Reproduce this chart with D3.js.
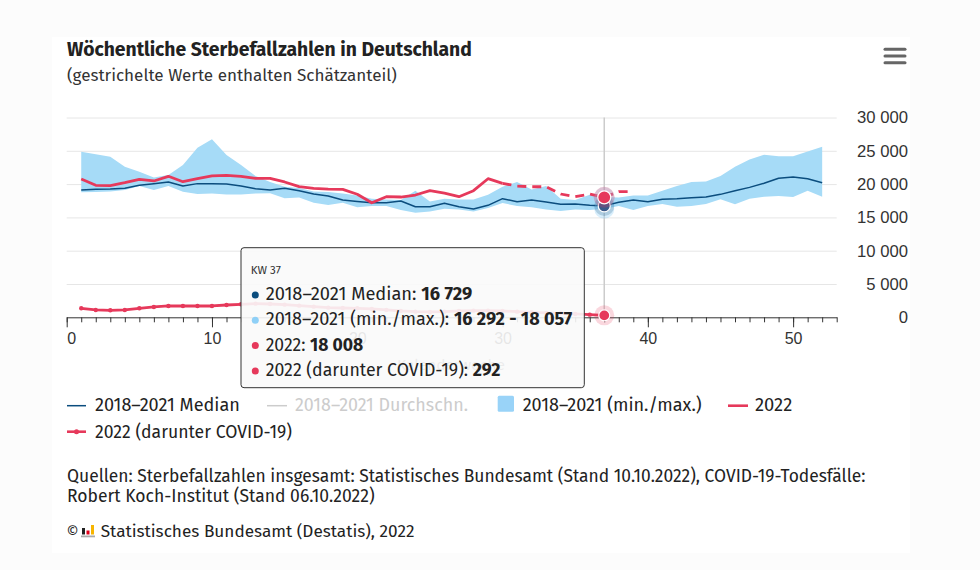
<!DOCTYPE html>
<html><head><meta charset="utf-8">
<script src="https://cdn.jsdelivr.net/npm/d3@7"></script>
<style>
html,body{margin:0;padding:0;background:#fcfcfc;}
svg{display:block;font-family:"Fira Sans","Noto Sans","Open Sans",sans-serif;}
</style></head><body>
<svg id="c" width="980" height="570"></svg>
<script>
// ---------- data ----------
const weeks = [1,2,3,4,5,6,7,8,9,10,11,12,13,14,15,16,17,18,19,20,21,22,23,24,25,26,
  27,28,29,30,31,32,33,34,35,36,37,38,39,40,41,42,43,44,45,46,47,48,49,50,51,52];
const median = [19110,19210,19250,19370,19820,20070,20320,19710,20070,20070,20000,19710,19310,
  19110,19370,19010,18510,18210,17610,17400,17210,17210,17460,16610,16610,17110,16610,16260,
  16810,17810,17360,17610,17310,16960,17010,16810,16729,17260,17610,17360,17710,17810,17960,
  18060,18460,19010,19510,20120,20870,21070,20810,20210];
const bandMin = [18770,18830,18900,19110,19710,19110,19710,18860,18510,18600,18450,18450,18600,
  18620,17870,18000,17210,16860,17210,16520,16700,16700,16110,15710,15900,16300,16200,15900,
  16400,17160,16700,16520,16200,15960,16200,16110,16292,16700,16110,16710,17010,16610,16710,
  17010,17710,16960,17810,18110,18210,18060,19010,18110];
const bandMax = [24870,24500,24100,22600,21860,21000,21370,22870,25470,26730,24370,22870,21200,
  20300,19600,19400,18900,18800,18600,18300,17800,17700,17600,19000,17400,17800,17700,17700,
  18400,19600,20300,19200,19700,17800,17600,18400,18057,18000,18300,18300,19000,19700,20300,
  20400,21200,22600,23700,24400,24200,24200,24900,25600];
const deaths2022 = [20770,19820,19770,20210,20720,20470,21170,20360,20810,21220,21320,21170,20870,
  20870,20320,19610,19370,19260,19210,18480,17200,18110,18060,18360,19010,18660,18110,19010,
  20810,20120,19710,19600,19600,18510,18110,18510,18008,18860,18860];
const estimatedFrom = 30; // dashed from this week on
const covid2022 = [1350,1100,1050,1100,1350,1550,1700,1700,1700,1700,1850,1950,2050,2000,1900,
  1750,1600,1450,1400,1350,1250,1100,950,850,800,850,950,1000,1000,950,850,750,650,600,500,400,292];
const xMajorTicks = [0,10,20,30,40,50];
const xMinorTicks = [0,1,2,3,4,5,6,7,8,9,10,11,12,13,14,15,16,17,18,19,20,21,22,23,24,25,26,
  27,28,29,30,31,32,33,34,35,36,37,38,39,40,41,42,43,44,45,46,47,48,49,50,51,52,53];
const yTicks = [0,5000,10000,15000,20000,25000,30000];
const hoverWeek = 37;

// ---------- setup ----------
const C = {median:"#0b4d7e", band:"#a6dbf7", bandLegend:"#99d3f8", red:"#e6395b", grid:"#e6e6e6", text:"#333"};
const loc = d3.formatLocale({decimal:",", thousands:"\u00a0", grouping:[3], currency:["","€"]});
const fmt = loc.format(",");
const svg = d3.select("#c");
svg.append("rect").attr("x",52).attr("y",37).attr("width",858).attr("height",516).attr("fill","#fff");

const x = d3.scaleLinear().domain([0,53]).range([66.7,836.7]);
const y = d3.scaleLinear().domain([0,30000]).range([317.3,117.5]);

function fit(sel, target){
  const w = sel.node().getComputedTextLength();
  const fs = parseFloat(sel.attr("font-size"));
  if (w>0) sel.attr("font-size", (fs*target/w).toFixed(2));
  return sel;
}

// title
fit(svg.append("text").attr("x",67).attr("y",56).attr("font-size",17).attr("font-weight","bold")
  .attr("fill","#222").text("Wöchentliche Sterbefallzahlen in Deutschland"),405);
fit(svg.append("text").attr("x",67).attr("y",81).attr("font-size",15).attr("fill",C.text)
  .text("(gestrichelte Werte enthalten Schätzanteil)"),330);

// menu icon
[49.3,56,62.7].forEach(yy=>svg.append("line").attr("x1",885).attr("x2",905).attr("y1",yy).attr("y2",yy)
  .attr("stroke","#666").attr("stroke-width",3).attr("stroke-linecap","round"));

// grid
svg.append("g").selectAll("line").data(yTicks.filter(d=>d>0)).join("line")
  .attr("x1",x(0)).attr("x2",x(53)).attr("y1",d=>y(d)+0.5).attr("y2",d=>y(d)+0.5)
  .attr("stroke",C.grid).attr("stroke-width",1);

// y axis labels (right)
const yAxis = svg.append("g").attr("transform","translate(908,0)")
  .call(d3.axisRight(y).tickValues(yTicks).tickSize(0).tickFormat(d=>fmt(d)));
yAxis.select(".domain").remove();
yAxis.selectAll("text").attr("x",0).attr("text-anchor","end").attr("font-size",15.5)
  .attr("font-family","inherit").attr("fill",C.text);
{
  const t = yAxis.selectAll("text").filter(d=>d===30000);
  const w = t.node().getComputedTextLength();
  yAxis.selectAll("text").attr("font-size",(15.5*51/w).toFixed(2));
}

// band
const idx = weeks.map((w,i)=>i);
svg.append("path").datum(idx)
  .attr("d", d3.area().x(i=>x(weeks[i])).y0(i=>y(bandMin[i])).y1(i=>y(bandMax[i])))
  .attr("fill",C.band);

// median
svg.append("path").datum(idx)
  .attr("d", d3.line().x(i=>x(weeks[i])).y(i=>y(median[i])))
  .attr("fill","none").attr("stroke",C.median).attr("stroke-width",1.5).attr("stroke-linejoin","round");

// crosshair
svg.append("line").attr("x1",x(hoverWeek)).attr("x2",x(hoverWeek)).attr("y1",y(30000)).attr("y2",y(0))
  .attr("stroke","#cccccc").attr("stroke-width",1.5);

// 2022 line
const d22 = deaths2022.map((v,i)=>({w:weeks[i],v}));
const l22 = d3.line().x(d=>x(d.w)).y(d=>y(d.v));
svg.append("path").datum(d22.filter(d=>d.w<=estimatedFrom)).attr("d",l22)
  .attr("fill","none").attr("stroke",C.red).attr("stroke-width",2.8).attr("stroke-linejoin","round");
svg.append("path").datum(d22.filter(d=>d.w>=estimatedFrom)).attr("d",l22)
  .attr("fill","none").attr("stroke",C.red).attr("stroke-width",2.8).attr("stroke-dasharray","9,6");

// covid line
const dc = covid2022.map((v,i)=>({w:weeks[i],v}));
svg.append("path").datum(dc).attr("d",l22)
  .attr("fill","none").attr("stroke",C.red).attr("stroke-width",2.8).attr("stroke-linejoin","round");
svg.append("g").selectAll("circle").data(dc).join("circle")
  .attr("cx",d=>x(d.w)).attr("cy",d=>y(d.v)).attr("r",2.2).attr("fill",C.red);

// x axis
const xAxisMinor = svg.append("g").attr("transform",`translate(0,${y(0)})`)
  .call(d3.axisBottom(x).tickValues(xMinorTicks).tickSize(5).tickSizeOuter(0).tickFormat(""));
xAxisMinor.select(".domain").attr("stroke","#333");
xAxisMinor.selectAll("line").attr("stroke","#333");
const xAxisMajor = svg.append("g").attr("transform",`translate(0,${y(0)})`)
  .call(d3.axisBottom(x).tickValues(xMajorTicks).tickSize(10).tickSizeOuter(0).tickPadding(5));
xAxisMajor.select(".domain").remove();
xAxisMajor.selectAll("line").attr("stroke","#333");
xAxisMajor.selectAll("text").attr("font-size",16).attr("font-family","inherit").attr("fill",C.text)
  .attr("dy","0.71em").attr("text-anchor",d=>d===0?"start":"middle");
svg.append("text").attr("x",451).attr("y",370).attr("text-anchor","middle").attr("font-size",15.5)
  .attr("fill","#666").text("Kalenderwoche");

// hover markers
const hi = weeks.indexOf(hoverWeek);
const hx = x(hoverWeek);
[bandMin[hi],bandMax[hi]].forEach(v=>svg.append("circle").attr("cx",hx).attr("cy",y(v)).attr("r",10)
  .attr("fill","#8fcff3").attr("opacity",0.35));
svg.append("circle").attr("cx",hx).attr("cy",y(median[hi])).attr("r",10).attr("fill",C.median).attr("opacity",0.2);
svg.append("circle").attr("cx",hx).attr("cy",y(median[hi])).attr("r",6).attr("fill","#3a5a8a")
  .attr("stroke","#fff").attr("stroke-width",1.2);
svg.append("circle").attr("cx",hx).attr("cy",y(deaths2022[hi])).attr("r",10.5).attr("fill",C.red).attr("opacity",0.25);
svg.append("circle").attr("cx",hx).attr("cy",y(deaths2022[hi])).attr("r",6.5).attr("fill",C.red)
  .attr("stroke","#fff").attr("stroke-width",1.2);
svg.append("circle").attr("cx",hx).attr("cy",y(covid2022[hi])).attr("r",10).attr("fill",C.red).attr("opacity",0.2);
svg.append("circle").attr("cx",hx).attr("cy",y(covid2022[hi])).attr("r",5.5).attr("fill",C.red)
  .attr("stroke","#fff").attr("stroke-width",1.2);

// tooltip
const tt = svg.append("g");
tt.append("rect").attr("x",241).attr("y",247.7).attr("width",343.3).attr("height",140).attr("rx",3)
  .attr("fill","rgba(250,250,250,0.9)").attr("stroke","#333").attr("stroke-width",1);
tt.append("text").attr("x",250.7).attr("y",273.5).attr("font-size",11.5).attr("fill",C.text).text("KW "+hoverWeek);
const ttRows = [
  {c:C.median, label:"2018–2021 Median: ", val:fmt(median[hi]), w:206.7},
  {c:"#8fd0f7", label:"2018–2021 (min./max.): ", val:fmt(bandMin[hi])+" - "+fmt(bandMax[hi]), w:306.6},
  {c:C.red, label:"2022: ", val:fmt(deaths2022[hi]), w:97.6},
  {c:C.red, label:"2022 (darunter COVID-19): ", val:fmt(covid2022[hi]), w:235}
];
ttRows.forEach((r,i)=>{
  const yy = 300 + i*25.3;
  tt.append("circle").attr("cx",255.3).attr("cy",yy-5).attr("r",3.5).attr("fill",r.c);
  const t = tt.append("text").attr("x",265.7).attr("y",yy).attr("font-size",16).attr("fill","#222");
  t.append("tspan").text(r.label);
  t.append("tspan").attr("font-weight","bold").text(r.val);
  fit(t, r.w);
});

// legend
const lg = svg.append("g");
const ly1 = 405.7, ly2 = 431.7;
lg.append("line").attr("x1",67).attr("x2",86).attr("y1",ly1).attr("y2",ly1).attr("stroke",C.median).attr("stroke-width",1.5);
fit(lg.append("text").attr("x",95).attr("y",411).attr("font-size",16).attr("fill","#222").text("2018–2021 Median"),145);
lg.append("line").attr("x1",267).attr("x2",287).attr("y1",ly1).attr("y2",ly1).attr("stroke","#cccccc").attr("stroke-width",1.5);
fit(lg.append("text").attr("x",295).attr("y",411).attr("font-size",16).attr("fill","#cccccc").text("2018–2021 Durchschn."),173);
lg.append("rect").attr("x",497.7).attr("y",395.7).attr("width",16.3).attr("height",16).attr("rx",1.5).attr("fill",C.bandLegend);
fit(lg.append("text").attr("x",522.7).attr("y",411).attr("font-size",16).attr("fill","#222").text("2018–2021 (min./max.)"),179);
lg.append("line").attr("x1",728).attr("x2",748).attr("y1",ly1).attr("y2",ly1).attr("stroke",C.red).attr("stroke-width",2.6);
fit(lg.append("text").attr("x",755).attr("y",411).attr("font-size",16).attr("fill","#222").text("2022"),37.3);
lg.append("line").attr("x1",67).attr("x2",86).attr("y1",ly2).attr("y2",ly2).attr("stroke",C.red).attr("stroke-width",2.6);
lg.append("circle").attr("cx",76.5).attr("cy",ly2).attr("r",2.5).attr("fill",C.red);
fit(lg.append("text").attr("x",95).attr("y",437.5).attr("font-size",16).attr("fill","#222").text("2022 (darunter COVID-19)"),197);

// footer
fit(svg.append("text").attr("x",67).attr("y",481.7).attr("font-size",16).attr("fill","#222")
  .text("Quellen: Sterbefallzahlen insgesamt: Statistisches Bundesamt (Stand 10.10.2022), COVID-19-Todesfälle:"),799);
fit(svg.append("text").attr("x",67).attr("y",501.7).attr("font-size",16).attr("fill","#222")
  .text("Robert Koch-Institut (Stand 06.10.2022)"),308);
svg.append("text").attr("x",66.5).attr("y",536.7).attr("font-size",15).attr("fill","#222").text("©");
const logo = svg.append("g");
logo.append("rect").attr("x",82).attr("y",528).attr("width",3).attr("height",6.5).attr("fill","#222");
logo.append("rect").attr("x",86.5).attr("y",530.5).attr("width",3).attr("height",4).attr("fill","#e2001a");
logo.append("rect").attr("x",91).attr("y",525).attr("width",3).attr("height",9.5).attr("fill","#f7b500");
logo.append("rect").attr("x",81).attr("y",535.5).attr("width",14).attr("height",1.8).attr("fill","#aaa");
fit(svg.append("text").attr("x",100.7).attr("y",536.7).attr("font-size",16).attr("fill","#222")
  .text("Statistisches Bundesamt (Destatis), 2022"),314);
</script>
</body></html>
